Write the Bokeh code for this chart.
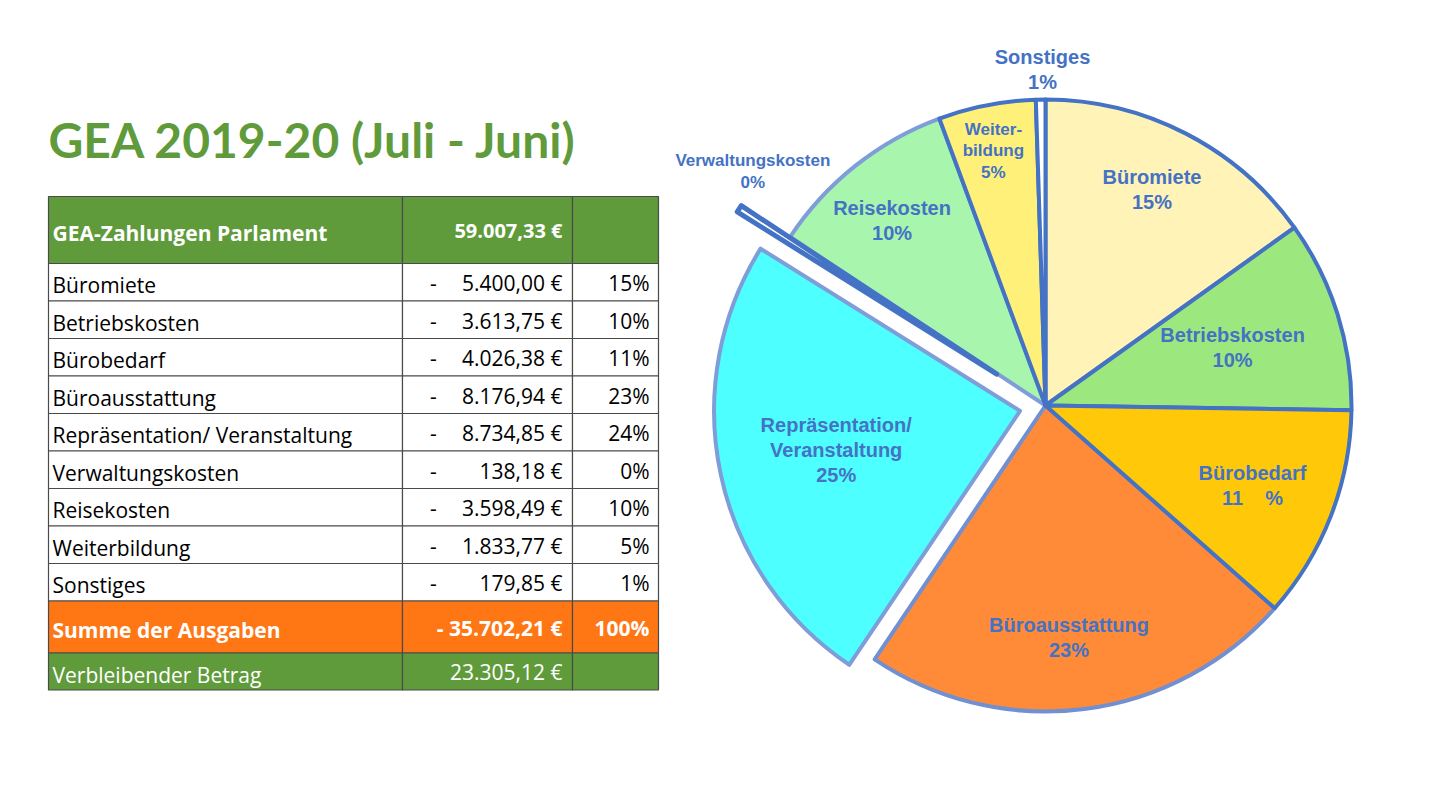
import math
from bokeh.plotting import figure
from bokeh.models import Range1d, ColumnDataSource
from bokeh.core.properties import value
from bokeh.embed import file_html
from bokeh.resources import INLINE

# ---------------- data ----------------
title = "GEA 2019-20 (Juli - Juni)"
income_label = "GEA-Zahlungen Parlament"
income = 59007.33
categories = ["Büromiete", "Betriebskosten", "Bürobedarf", "Büroausstattung",
              "Repräsentation/ Veranstaltung", "Verwaltungskosten", "Reisekosten",
              "Weiterbildung", "Sonstiges"]
amounts = [5400.00, 3613.75, 4026.38, 8176.94, 8734.85, 138.18, 3598.49, 1833.77, 179.85]
sum_label = "Summe der Ausgaben"
rest_label = "Verbleibender Betrag"
pie_labels = [["Büromiete", "15%"], ["Betriebskosten", "10%"], ["Bürobedarf", "11\u00a0\u00a0\u00a0\u00a0%"],
              ["Büroausstattung", "23%"], ["Repräsentation/", "Veranstaltung", "25%"],
              ["Verwaltungskosten", "0%"], ["Reisekosten", "10%"],
              ["Weiter-", "bildung", "5%"], ["Sonstiges", "1%"]]

# ---------------- styles ----------------
slice_fill = ["#FFF3B8", "#9DE87E", "#FFC90A", "#FF8B38", "#4DFFFF", "#FFFFFF",
              "#A8F5AE", "#FFF07A", "#FFFFFF"]
slice_line = ["#4472C4", "#4472C4", "#4472C4", "#7090D2", "#7F9DD9", "#4472C4",
              "#7F9DD9", "#4472C4", "#4472C4"]
slice_lw = [4, 4, 4, 4, 4, 5, 4, 4, 4]
explode = [0, 0, 0, 0, 26, 58, 0, 0, 0]
label_r = [241, 196, 222, 233, 188, 317, 240, 260, 336]
label_dang = [1, 0, 0, -1.5, 0, -7, 1.3, 0.5, -0.4]
label_size = [20, 20, 20, 20, 20, 17, 20, 17, 20]
GREEN = "#5F9B3B"
ORANGE = "#FF7614"
BLUE = "#4472C4"

W, H = 1424, 794


def X(sx):
    return sx


def Y(sy):
    return H - sy


p = figure(width=W, height=H, x_range=Range1d(0, W), y_range=Range1d(0, H),
           output_backend="svg", toolbar_location=None, min_border=0,
           x_axis_location=None, y_axis_location=None)
p.grid.visible = False
p.outline_line_color = None
p.background_fill_color = "white"
p.border_fill_color = "white"

# ---------------- title ----------------
p.text(x=[X(48)], y=[Y(139)], text=[title], text_font=value("Lato"),
       text_font_style="bold", text_font_size="48px", text_color=GREEN,
       text_align="left", text_baseline="middle")

# ---------------- table ----------------
def de(v):
    s = f"{v:,.2f}"
    return s.replace(",", "X").replace(".", ",").replace("X", ".") + " €"

total = sum(amounts)
pcts = [f"{round(a / total * 100)}%" for a in amounts]

col_edges = [48, 402, 572, 658]
row_heights = [67] + [37.5] * len(categories) + [52, 37]
row_tops = [196]
for h in row_heights:
    row_tops.append(row_tops[-1] + h)
nrows = len(row_heights)
row_fill = [GREEN] + ["white"] * len(categories) + [ORANGE, GREEN]

ql, qr, qt, qb, qf = [], [], [], [], []
for r in range(nrows):
    for c in range(3):
        ql.append(X(col_edges[c]))
        qr.append(X(col_edges[c + 1]))
        qt.append(Y(row_tops[r]))
        qb.append(Y(row_tops[r + 1]))
        qf.append(row_fill[r])
p.quad(left=ql, right=qr, top=qt, bottom=qb, fill_color=qf,
       line_color="#4a4a4a", line_width=1.2)

def cy(r):
    return Y((row_tops[r] + row_tops[r + 1]) / 2 + 3)

TF = value("Open Sans")
FS = "21px"
# header
p.text(x=[X(52)], y=[cy(0)], text=[income_label], text_font=TF, text_font_style="bold",
       text_font_size="21px", text_color="white", text_baseline="middle", text_align="left")
p.text(x=[X(562)], y=[cy(0) + 3], text=[de(income)], text_font=TF, text_font_style="bold",
       text_font_size="20px", text_color="white", text_baseline="middle", text_align="right")
# expense rows
ys = [cy(i + 1) for i in range(len(categories))]
p.text(x=[X(52)] * len(categories), y=ys, text=categories, text_font=TF,
       text_font_size=FS, text_color="black", text_baseline="middle", text_align="left")
p.text(x=[X(433)] * len(categories), y=[v + 2 for v in ys], text=["-"] * len(categories),
       text_font=TF, text_font_size=FS, text_color="black", text_baseline="middle",
       text_align="center")
p.text(x=[X(562)] * len(categories), y=[v + 2 for v in ys], text=[de(a) for a in amounts],
       text_font=TF, text_font_size=FS, text_color="black", text_baseline="middle",
       text_align="right")
p.text(x=[X(649)] * len(categories), y=[v + 2 for v in ys], text=pcts, text_font=TF,
       text_font_size=FS, text_color="black", text_baseline="middle", text_align="right")
# sum row
rs = len(categories) + 1
p.text(x=[X(52)], y=[cy(rs)], text=[sum_label], text_font=TF, text_font_style="bold",
       text_font_size=FS, text_color="white", text_baseline="middle", text_align="left")
p.text(x=[X(562)], y=[cy(rs) + 2], text=["- " + de(total)], text_font=TF, text_font_style="bold",
       text_font_size=FS, text_color="white", text_baseline="middle", text_align="right")
p.text(x=[X(649)], y=[cy(rs) + 2], text=[f"{round(total / total * 100)}%"], text_font=TF,
       text_font_style="bold", text_font_size=FS, text_color="white",
       text_baseline="middle", text_align="right")
# remaining row
rr = len(categories) + 2
p.text(x=[X(52)], y=[cy(rr)], text=[rest_label], text_font=TF,
       text_font_size=FS, text_color="white", text_baseline="middle", text_align="left")
p.text(x=[X(562)], y=[cy(rr) + 3], text=[de(income - total)], text_font=TF,
       text_font_size=FS, text_color="white", text_baseline="middle", text_align="right")

# ---------------- pie ----------------
cx, cyc, R = X(1045), Y(405), 306
starts, ends, xs, yss, mids = [], [], [], [], []
cum = 0.0
for i, a in enumerate(amounts):
    a0 = math.pi / 2 - 2 * math.pi * cum / total
    cum += a
    a1 = math.pi / 2 - 2 * math.pi * cum / total
    mid = (a0 + a1) / 2
    starts.append(a1)
    ends.append(a0)
    mids.append(mid)
    xs.append(cx + explode[i] * math.cos(mid))
    yss.append(cyc + explode[i] * math.sin(mid))

order = sorted(range(len(amounts)), key=lambda i: 0 if slice_line[i] != BLUE else 1)
src = ColumnDataSource(dict(
    x=[xs[i] for i in order], y=[yss[i] for i in order],
    start=[starts[i] for i in order], end=[ends[i] for i in order],
    fill=[slice_fill[i] for i in order], line=[slice_line[i] for i in order],
    lw=[slice_lw[i] for i in order]))
p.wedge(x="x", y="y", radius=R, start_angle="start", end_angle="end",
        fill_color="fill", line_color="line", line_width="lw", line_join="round", source=src)

# labels
for i, lines in enumerate(pie_labels):
    ang = mids[i] + math.radians(label_dang[i])
    lx = xs[i] + label_r[i] * math.cos(ang)
    ly = yss[i] + label_r[i] * math.sin(ang)
    fs = label_size[i]
    sp = fs * 1.25
    n = len(lines)
    lys = [ly + (n - 1) / 2 * sp - k * sp for k in range(n)]
    p.text(x=[lx] * n, y=lys, text=lines, text_font=value("Liberation Sans"),
           text_font_style="bold", text_font_size=f"{fs}px", text_color=BLUE,
           text_align="center", text_baseline="middle")

open("out.html", "w").write(file_html(p, INLINE))
